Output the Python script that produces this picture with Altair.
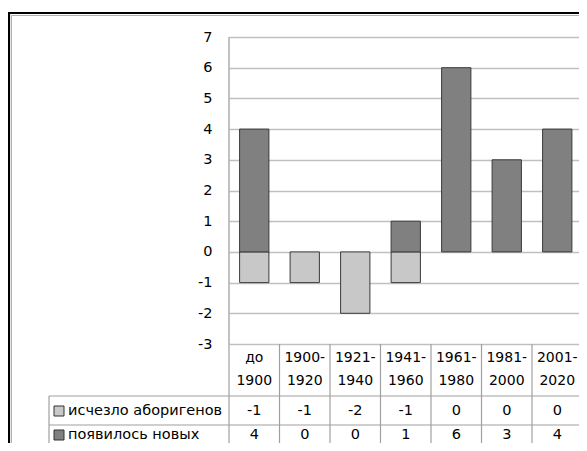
import altair as alt
import pandas as pd

# ---- data ----
cat_top = ["до", "1900-", "1921-", "1941-", "1961-", "1981-", "2001-"]
cat_bottom = ["1900", "1920", "1940", "1960", "1980", "2000", "2020"]
series_names = ["исчезло аборигенов", "появилось новых"]
lost = [-1, -1, -2, -1, 0, 0, 0]
new = [4, 0, 0, 1, 6, 3, 4]
y_ticks = [-3, -2, -1, 0, 1, 2, 3, 4, 5, 6, 7]

cats = [t + " " + b for t, b in zip(cat_top, cat_bottom)]
rows = []
for s, vals in zip(series_names, [lost, new]):
    for c, t, b, v in zip(cats, cat_top, cat_bottom, vals):
        rows.append({"cat": c, "top": t, "bottom": b, "series": s, "value": v})
df = pd.DataFrame(rows)
cat_df = pd.DataFrame({"cat": cats, "top": cat_top, "bottom": cat_bottom})

# ---- layout (pixels) ----
SVG_W, SVG_H = 571, 435
PAD_L, PAD_T = 221, 29
W = SVG_W - PAD_L          # visible plot width (clipped at the page edge)
H = 307
XR = 353.5                 # full width of the 7 table columns
STEP = XR / len(cats)
FONT = "DejaVu Sans"
FS = 14.5
GRID = "#c0c0c0"
LINE = "#a0a0a0"
COLORS = ["#c8c8c8", "#808080"]
ROW1, ROW2 = 374, 398

xenc = alt.X("cat:N", sort=cats, axis=None,
             scale=alt.Scale(range=[0, XR], paddingInner=0.42, paddingOuter=0.21))
txt = dict(font=FONT, fontSize=FS, baseline="middle", color="#000")
htxt = dict(font=FONT, fontSize=14, baseline="middle", color="#000")

bars = alt.Chart(df).transform_filter("datum.value != 0").mark_bar(
    stroke="#3a3a3a", strokeWidth=1
).encode(
    x=xenc,
    y=alt.Y("value:Q", stack="zero",
            scale=alt.Scale(domain=[-3, 7], nice=False, zero=False),
            axis=alt.Axis(values=y_ticks, title=None, grid=True, gridColor=GRID,
                          gridWidth=1.3, domain=False, ticks=False, labelPadding=17,
                          labelExpr="datum.value + ''",
                          labelFont=FONT, labelFontSize=FS, labelColor="#000")),
    color=alt.Color("series:N", legend=None,
                    scale=alt.Scale(domain=series_names, range=COLORS)),
)

# header labels of the data table
hdr1 = alt.Chart(cat_df).mark_text(**htxt).encode(x=xenc, y=alt.value(321), text="top:N")
hdr2 = alt.Chart(cat_df).mark_text(**htxt).encode(x=xenc, y=alt.value(344), text="bottom:N")

# value rows
row1 = alt.Chart(df).transform_filter(alt.datum.series == series_names[0]).transform_calculate(
    lab="'' + datum.value").mark_text(**txt).encode(x=xenc, y=alt.value(ROW1), text="lab:N")
row2 = alt.Chart(df).transform_filter(alt.datum.series == series_names[1]).transform_calculate(
    lab="'' + datum.value").mark_text(**txt).encode(x=xenc, y=alt.value(ROW2), text="lab:N")

# legend cells
leg_df = pd.DataFrame({"series": series_names, "py": [ROW1, ROW2]})
leg_sq = alt.Chart(leg_df).mark_square(size=100, stroke="#333333", strokeWidth=1, opacity=1).encode(
    x=alt.value(-170), y=alt.Y("py:Q", scale=None),
    color=alt.Color("series:N", legend=None,
                    scale=alt.Scale(domain=series_names, range=COLORS)))
leg_tx = alt.Chart(leg_df).mark_text(**txt, align="left").encode(
    x=alt.value(-161), y=alt.Y("py:Q", scale=None), text="series:N")

# table grid lines and plot border
vlines = pd.DataFrame({"px": [i * STEP for i in range(len(cats) + 1)]})
tbl_v = alt.Chart(vlines).mark_rule(color=LINE, strokeWidth=1.2).encode(
    x=alt.X("px:Q", scale=None), y=alt.value(H), y2=alt.value(420))
hl = pd.DataFrame({"py": [359, 388]})
tbl_h = alt.Chart(hl).mark_rule(color=LINE, strokeWidth=1.2).encode(
    y=alt.Y("py:Q", scale=None), x=alt.value(-180), x2=alt.value(XR + 20))
one = pd.DataFrame({"k": [1]})
tbl_l = alt.Chart(one).mark_rule(color=LINE, strokeWidth=1.2).encode(
    x=alt.value(-180), y=alt.value(359), y2=alt.value(420))
plot_l = alt.Chart(one).mark_rule(color=LINE, strokeWidth=1.3).encode(
    x=alt.value(0), y=alt.value(0), y2=alt.value(H))

# outer frame
fr_top = alt.Chart(one).mark_rule(color="#000", strokeWidth=2.2).encode(
    y=alt.value(-24), x=alt.value(-221), x2=alt.value(XR + 20))
fr_left = alt.Chart(one).mark_rule(color="#000", strokeWidth=2.2).encode(
    x=alt.value(-220), y=alt.value(-25), y2=alt.value(420))
fr_top2 = alt.Chart(one).mark_rule(color="#b0b0b0", strokeWidth=1).encode(
    y=alt.value(-21.5), x=alt.value(-217.5), x2=alt.value(XR + 20))
fr_left2 = alt.Chart(one).mark_rule(color="#b0b0b0", strokeWidth=1).encode(
    x=alt.value(-217.5), y=alt.value(-21.5), y2=alt.value(420))

chart = alt.layer(
    bars, hdr1, hdr2, row1, row2, tbl_v, tbl_h, tbl_l, plot_l, leg_sq, leg_tx,
    fr_top, fr_left, fr_top2, fr_left2
).properties(
    width=W, height=H, autosize="none",
    padding={"left": PAD_L, "top": PAD_T, "right": 0, "bottom": SVG_H - PAD_T - H},
).configure_view(stroke=None)

chart.save("out.html", embed_options={"renderer": "svg", "actions": False})
